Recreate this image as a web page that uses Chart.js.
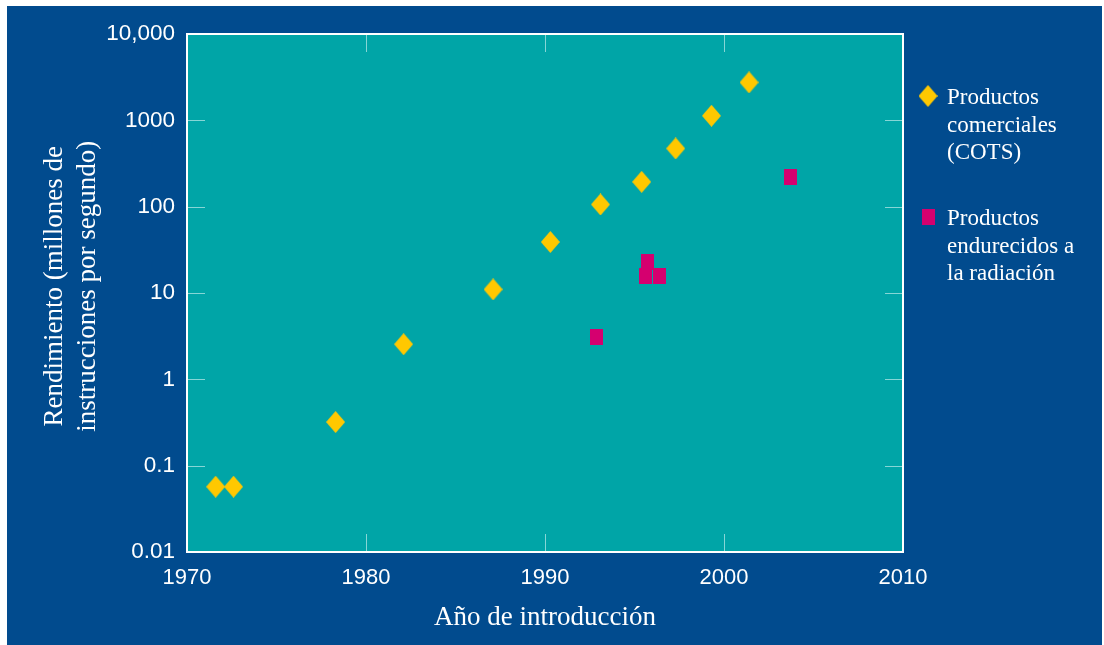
<!DOCTYPE html>
<html>
<head>
<meta charset="utf-8">
<script src="https://cdn.jsdelivr.net/npm/chart.js@4.4.1/dist/chart.umd.min.js"></script>
<style>
  html, body { margin: 0; padding: 0; background: #ffffff; }
  canvas { display: block; }
</style>
</head>
<body>
<canvas id="chart" width="1104" height="645"></canvas>
<script>
// Year of introduction and performance (MIPS) for each product family
const cotsYears = [1971.6, 1972.6, 1978.3, 1982.1, 1987.1, 1990.3, 1993.1, 1995.4, 1997.3, 1999.3, 2001.4];
const cotsMips  = [0.057, 0.057, 0.32, 2.55, 11, 39, 106, 194, 472, 1130, 2750];
const hardYears = [1992.9, 1995.7, 1995.6, 1996.4, 2003.7];
const hardMips  = [3.07, 22.7, 15.7, 15.7, 220];

// Axis ticks
const xTicks  = [1970, 1980, 1990, 2000, 2010];
const yTicks  = [0.01, 0.1, 1, 10, 100, 1000, 10000];
const yLabels = ['0.01', '0.1', '1', '10', '100', '1000', '10,000'];

// Legend entries
const cotsLabel = ['Productos', 'comerciales', '(COTS)'];
const hardLabel = ['Productos', 'endurecidos a', 'la radiación'];

const BLUE = '#014b8e';
const TEAL = '#00a5a7';
const GOLD = '#ffc800';
const MAGENTA = '#d5006f';
const TICK = '#86d6d6';
const SERIF = '"Liberation Serif", "Times New Roman", serif';
const SANS = '"Liberation Sans", Arial, sans-serif';

function makeDiamond(w, h, color) {
  const c = document.createElement('canvas');
  c.width = w; c.height = h;
  const g = c.getContext('2d');
  g.fillStyle = color;
  g.beginPath();
  g.moveTo(w / 2, 0); g.lineTo(w, h / 2); g.lineTo(w / 2, h); g.lineTo(0, h / 2);
  g.closePath(); g.fill();
  return c;
}
function makeRect(w, h, color) {
  const c = document.createElement('canvas');
  c.width = w; c.height = h;
  const g = c.getContext('2d');
  g.fillStyle = color;
  g.fillRect(0, 0, w, h);
  return c;
}
const diamond = makeDiamond(19, 22, GOLD);
const square = makeRect(13, 16, MAGENTA);

const toPoints = (xs, ys) => xs.map((x, i) => ({ x: x, y: ys[i] }));

const framePlugin = {
  id: 'frame',
  beforeDraw(chart) {
    const { ctx, chartArea: a } = chart;
    ctx.save();
    ctx.fillStyle = '#ffffff';
    ctx.fillRect(0, 0, chart.width, chart.height);
    ctx.fillStyle = BLUE;
    ctx.fillRect(7, 6, 1095, 639);
    ctx.fillStyle = TEAL;
    ctx.fillRect(a.left, a.top, a.right - a.left, a.bottom - a.top);
    ctx.restore();
  },
  beforeDatasetsDraw(chart) {
    const { ctx, chartArea: a, scales } = chart;
    const len = 18;
    ctx.save();
    ctx.strokeStyle = TICK;
    ctx.lineWidth = 1;
    ctx.beginPath();
    xTicks.forEach(v => {
      const px = Math.round(scales.x.getPixelForValue(v)) + 0.5;
      ctx.moveTo(px, a.top); ctx.lineTo(px, a.top + len);
      ctx.moveTo(px, a.bottom); ctx.lineTo(px, a.bottom - len);
    });
    yTicks.forEach(v => {
      const py = Math.round(scales.y.getPixelForValue(v)) + 0.5;
      ctx.moveTo(a.left, py); ctx.lineTo(a.left + len, py);
      ctx.moveTo(a.right, py); ctx.lineTo(a.right - len, py);
    });
    ctx.stroke();
    ctx.strokeStyle = '#ffffff';
    ctx.lineWidth = 2;
    ctx.strokeRect(a.left, a.top, a.right - a.left, a.bottom - a.top);
    ctx.restore();
  },
  afterDraw(chart) {
    const ctx = chart.ctx;
    ctx.save();
    ctx.fillStyle = '#ffffff';
    ctx.font = '23px ' + SERIF;
    ctx.textBaseline = 'alphabetic';
    ctx.textAlign = 'left';
    const entries = [
      { img: diamond, cx: 928, cy: 96, lines: cotsLabel, base: 104 },
      { img: square, cx: 928, cy: 217, lines: hardLabel, base: 225 }
    ];
    entries.forEach(e => {
      ctx.drawImage(e.img, e.cx - e.img.width / 2, e.cy - e.img.height / 2);
      e.lines.forEach((t, i) => ctx.fillText(t, 947, e.base + i * 27.6));
    });
    ctx.restore();
  }
};

new Chart(document.getElementById('chart'), {
  type: 'scatter',
  data: {
    datasets: [
      {
        label: cotsLabel.join(' '),
        data: toPoints(cotsYears, cotsMips),
        pointStyle: diamond,
        pointRadius: 10,
        backgroundColor: GOLD,
        borderColor: GOLD
      },
      {
        label: hardLabel.join(' '),
        data: toPoints(hardYears, hardMips),
        pointStyle: square,
        pointRadius: 8,
        backgroundColor: MAGENTA,
        borderColor: MAGENTA
      }
    ]
  },
  options: {
    responsive: false,
    animation: false,
    events: [],
    devicePixelRatio: 1,
    layout: { padding: { left: 0, top: 34, right: 201, bottom: 0 } },
    plugins: {
      legend: { display: false },
      tooltip: { enabled: false }
    },
    scales: {
      x: {
        type: 'linear',
        min: 1970,
        max: 2010,
        afterBuildTicks: s => { s.ticks = xTicks.map(v => ({ value: v })); },
        afterFit: s => { s.height = 93; },
        grid: { display: false, drawTicks: false },
        border: { display: false },
        ticks: {
          color: '#ffffff',
          font: { family: SANS, size: 22 },
          padding: 13,
          maxRotation: 0,
          autoSkip: false,
          callback: v => String(v)
        },
        title: {
          display: true,
          text: 'Año de introducción',
          color: '#ffffff',
          font: { family: SERIF, size: 27, lineHeight: 1.2 },
          padding: { top: 0, bottom: 11 }
        }
      },
      y: {
        type: 'logarithmic',
        min: 0.01,
        max: 10000,
        afterBuildTicks: s => { s.ticks = yTicks.map(v => ({ value: v })); },
        afterFit: s => { s.width = 187; },
        grid: { display: false, drawTicks: false },
        border: { display: false },
        ticks: {
          color: '#ffffff',
          font: { family: SANS, size: 22.5 },
          padding: 12,
          autoSkip: false,
          callback: v => {
            const i = yTicks.findIndex(t => Math.abs(t - v) < t * 1e-6);
            return i >= 0 ? yLabels[i] : '';
          }
        },
        title: {
          display: true,
          // leading spaces nudge the rotated title slightly upward
          text: ['  Rendimiento (millones de', '  instrucciones por segundo)'],
          color: '#ffffff',
          font: { family: SERIF, size: 27, lineHeight: 1.22 },
          padding: { top: 38.5, bottom: 0 }
        }
      }
    }
  },
  plugins: [framePlugin]
});
</script>
</body>
</html>
